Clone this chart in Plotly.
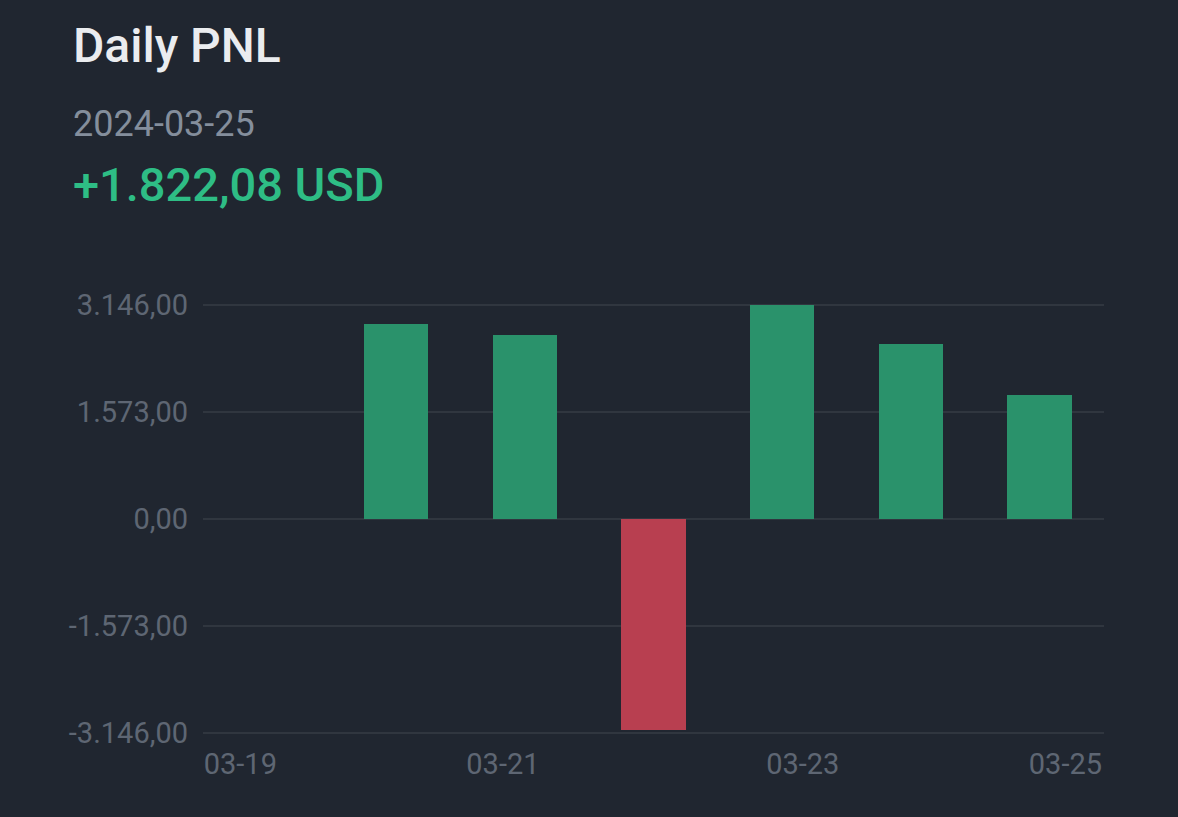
import plotly.graph_objects as go

dates = ["03-19", "03-20", "03-21", "03-22", "03-23", "03-24", "03-25"]
pnl = [None, 2870, 2712, -3097, 3146, 2570, 1822.08]
y_ticks = [-3146, -1573, 0, 1573, 3146]
y_tick_labels = ["-3.146,00", "-1.573,00", "0,00", "1.573,00", "3.146,00"]
x_tick_labels = ["03-19", "03-21", "03-23", "03-25"]
x_tick_pos = [-0.21, 1.83, 4.16, 6.20]

GREEN_BAR = "rgb(42,146,107)"
RED_BAR = "rgb(184,63,80)"
BG = "#202630"

x_idx = list(range(len(dates)))
colors = [GREEN_BAR if (v is not None and v >= 0) else RED_BAR for v in pnl]

fig = go.Figure()
fig.add_trace(go.Bar(
    x=x_idx, y=pnl, width=0.5,
    marker=dict(color=colors, line=dict(width=0)),
    hovertext=dates, hoverinfo="text+y",
))

W, H = 1178, 817
YPAD = 16  # range padding so edge gridlines render
extra = YPAD / 3146 * 214.3
L, R, T, B = 202.7, 74, 304.7 - extra, 83.7 - extra
pw = W - L - R
ph = H - T - B

def px(x):
    return (x - L) / pw

def py(y):
    return (H - B - y) / ph

fig.update_layout(
    width=W, height=H,
    margin=dict(l=L, r=R, t=T, b=B, pad=0),
    paper_bgcolor=BG, plot_bgcolor=BG,
    showlegend=False,
    bargap=0,
    font=dict(family="Roboto, Inter, sans-serif", color="#5e6673", size=28),
    xaxis=dict(
        range=[-0.5, 6.5], showgrid=False, zeroline=False, showline=False,
        tickmode="array", tickvals=x_tick_pos, ticktext=x_tick_labels,
        ticks="", ticklabelstandoff=10,
        tickfont=dict(size=29, color="#5e6673"), fixedrange=True,
    ),
    yaxis=dict(
        range=[-3146 - YPAD, 3146 + YPAD], tickmode="array", tickvals=y_ticks,
        ticktext=y_tick_labels,
        showgrid=True, gridcolor="#30363f", gridwidth=2,
        zeroline=False, showline=False, ticks="",
        ticklabelstandoff=14,
        tickfont=dict(size=29, color="#5e6673"), fixedrange=True,
    ),
    annotations=[
        dict(text="Daily PNL", xref="paper", yref="paper", x=px(71), y=py(45),
             xanchor="left", yanchor="middle", showarrow=False,
             font=dict(size=48, color="#eaecef", family="Roboto, sans-serif", weight=500)),
        dict(text="2024-03-25", xref="paper", yref="paper", x=px(71), y=py(123),
             xanchor="left", yanchor="middle", showarrow=False,
             font=dict(size=36, color="#848e9c", family="Roboto, sans-serif")),
        dict(text="+1.822,08 USD", xref="paper", yref="paper", x=px(71), y=py(184),
             xanchor="left", yanchor="middle", showarrow=False,
             font=dict(size=47, color="#2ebd85", family="Roboto, sans-serif", weight=500)),
    ],
)

fig.write_html(
    "out.html",
    config={"displayModeBar": False},
    post_script="document.body.style.margin='0';document.body.style.background='#202630';",
)
